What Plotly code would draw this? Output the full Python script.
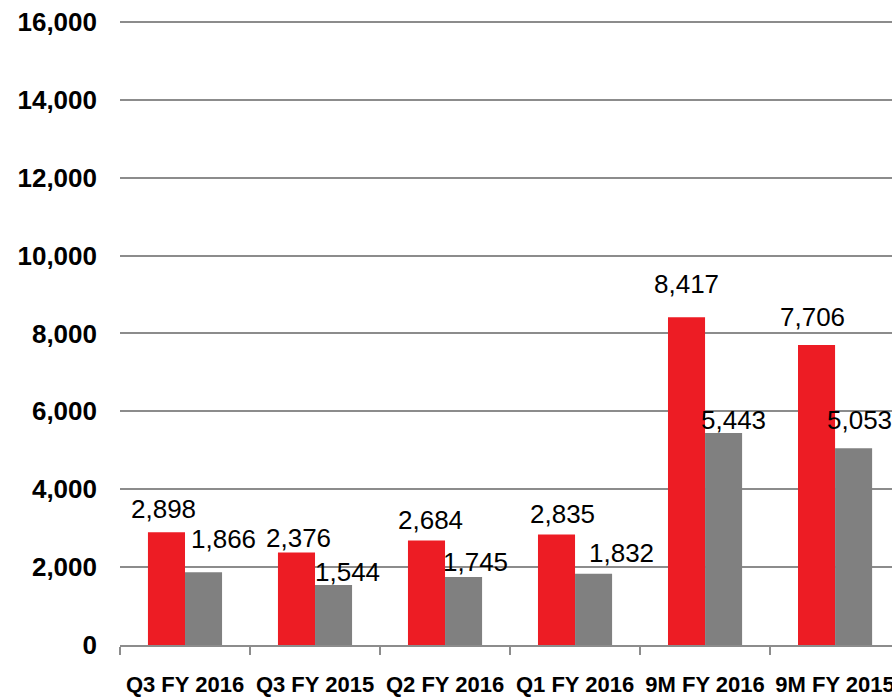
import plotly.graph_objects as go

categories = ["Q3 FY 2016", "Q3 FY 2015", "Q2 FY 2016", "Q1 FY 2016", "9M FY 2016", "9M FY 2015"]
series_a = [2898, 2376, 2684, 2835, 8417, 7706]   # red
series_b = [1866, 1544, 1745, 1832, 5443, 5053]   # gray
y_ticks = [0, 2000, 4000, 6000, 8000, 10000, 12000, 14000, 16000]

RED = "#ED1C24"
GRAY = "#808080"
GRID = "#8c8c8c"
FONT = "Liberation Sans, Arial, sans-serif"

# label placement offsets (pixels) relative to each bar top / bar centre
a_dx = [-3, 2, 4, 6, 0, -4]
a_dy = [23, 14, 20, 21, 33, 28]
b_dx = [20, 14, 12, 28, 10, 6]
b_dy = [33, 13, 15, 21, 13, 28]

fig = go.Figure()
fig.add_trace(go.Bar(x=categories, y=series_a, marker=dict(color=RED, line=dict(width=0)), name="A"))
fig.add_trace(go.Bar(x=categories, y=series_b, marker=dict(color=GRAY, line=dict(width=0)), name="B"))

half = 18.5
for i, c in enumerate(categories):
    fig.add_annotation(x=c, y=series_a[i], xref="x", yref="y", text=f"{series_a[i]:,}",
                       showarrow=False, xanchor="center", yanchor="middle",
                       xshift=-half + a_dx[i], yshift=a_dy[i],
                       font=dict(family=FONT, size=26, color="black"))
    fig.add_annotation(x=c, y=series_b[i], xref="x", yref="y", text=f"{series_b[i]:,}",
                       showarrow=False, xanchor="center", yanchor="middle",
                       xshift=half + b_dx[i], yshift=b_dy[i],
                       font=dict(family=FONT, size=26, color="black"))

fig.update_layout(
    width=892, height=697,
    margin=dict(l=120, r=0, t=20, b=52, autoexpand=False),
    paper_bgcolor="white", plot_bgcolor="white",
    barmode="group", bargap=0.43, bargroupgap=0,
    showlegend=False,
    font=dict(family=FONT),
)
fig.update_xaxes(
    type="category", range=[-0.5, 5.438], automargin=False,
    showgrid=False, showline=True, linecolor=GRID, linewidth=2,
    ticks="outside", tickson="boundaries", ticklen=8, tickwidth=2, tickcolor=GRID,
    tickfont=dict(family=FONT, size=22, color="black", weight="bold"),
    ticklabelstandoff=19,
)
fig.update_yaxes(
    range=[0, 16051], tickvals=y_ticks, ticktext=[f"{v:,}" for v in y_ticks],
    automargin=False, ticklabeloverflow="allow",
    showgrid=True, gridcolor=GRID, gridwidth=2, zeroline=False, showline=False,
    ticks="", ticklabelstandoff=22,
    tickfont=dict(family=FONT, size=26, color="black", weight="bold"),
)

fig.write_html(
    "out.html",
    config={"displayModeBar": False},
    post_script="document.body.style.margin='0';document.body.style.overflow='hidden';",
)
